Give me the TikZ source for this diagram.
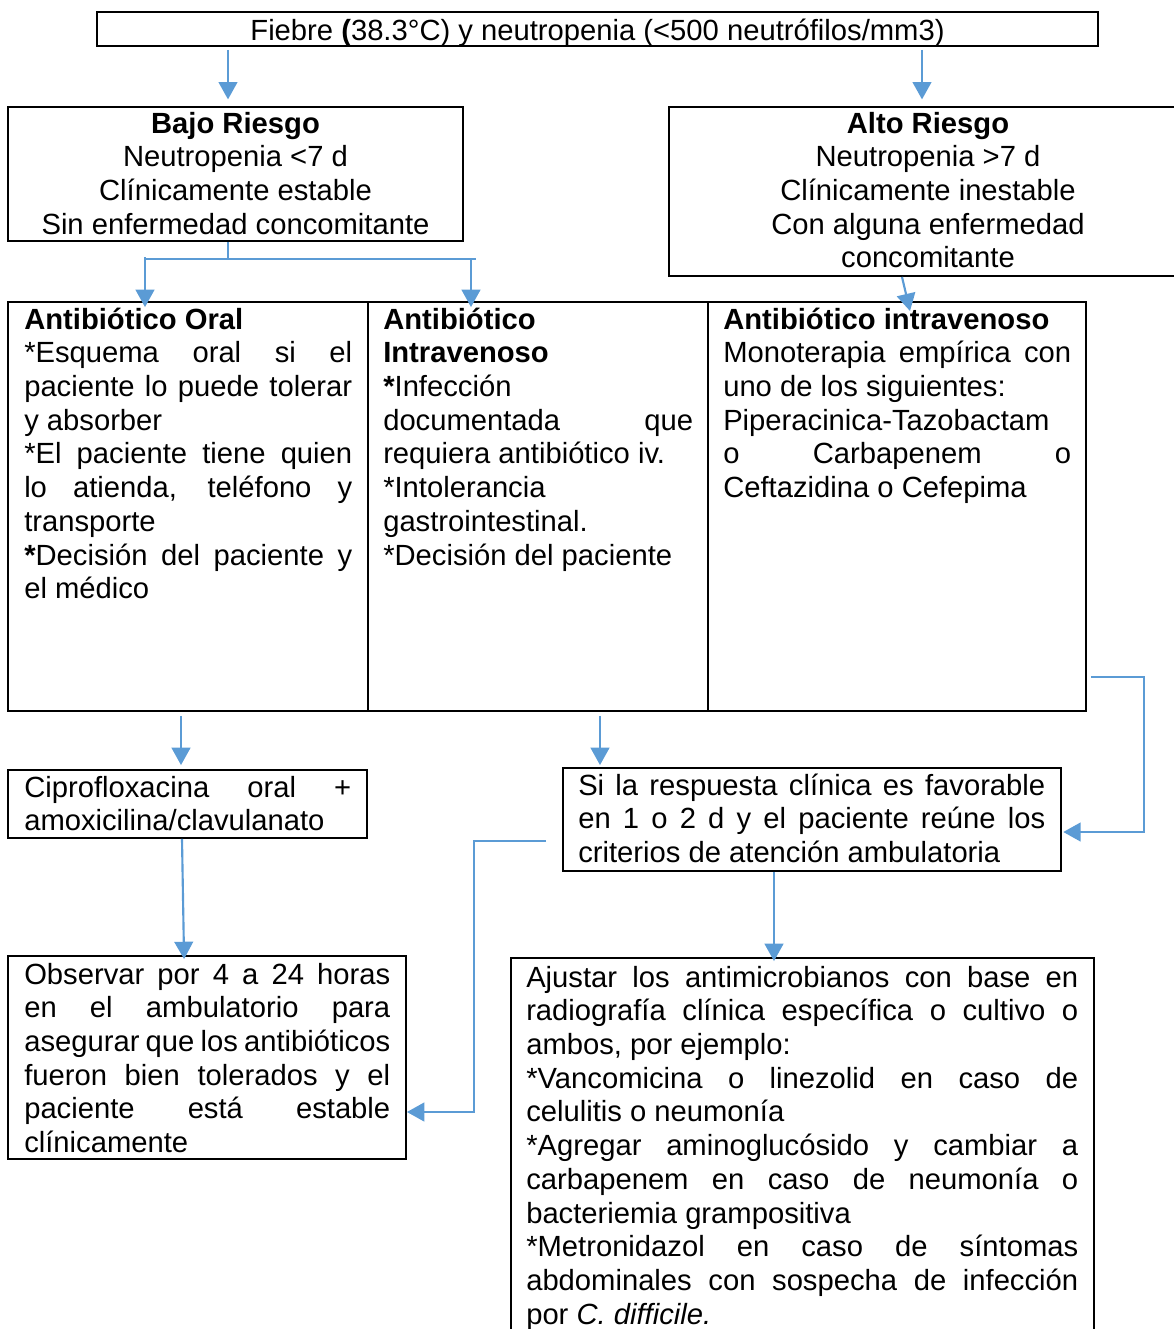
\documentclass[tikz,border=0pt]{standalone}
\usepackage{fontspec}
\setmainfont{Liberation Sans}
\usetikzlibrary{fit,arrows.meta}
\definecolor{arrblue}{HTML}{5B9BD5}
\newcommand\jl[1]{\makebox[\hsize][s]{#1}}
\tikzset{
  box/.style={draw=black, line width=1.4pt, inner sep=0pt, rectangle},
  conn/.style={draw=arrblue, line width=1.6pt},
  arr/.style={conn, -{Triangle[width=14pt,length=13pt]}},
  txt/.style={inner sep=0pt, font=\fontsize{21.9}{25.3}\selectfont}
}
\begin{document}
\begin{tikzpicture}[x=0.75pt,y=-0.75pt]
\useasboundingbox (0,0) rectangle (1174,1329);
% boxes
\node[box, fit={(97,12) (1098,46)}] (top) {};
\node[box, fit={(8,107) (463,241)}] (bajo) {};
\node[box, fit={(669,107) (1187,276)}] (alto) {};
\node[box, fit={(8,302) (368,711)}] (col1) {};
\node[box, fit={(368,302) (708,711)}] (col2) {};
\node[box, fit={(708,302) (1086,711)}] (col3) {};
\node[box, fit={(8,770) (367,838)}] (cipro) {};
\node[box, fit={(563,768) (1061,871)}] (si) {};
\node[box, fit={(8,956) (406,1159)}] (obs) {};
\node[box, fit={(511,958) (1094,1345)}] (ajus) {};
% texts
\node[txt, anchor=base] (t-top) at (597.5,40) {Fiebre \textbf{(}38.3°C) y neutropenia (<500 neutrófilos/mm3)};
\node[txt, anchor=base] (t-bajo) at (235.5,133) {\parbox[t]{440pt}{\centering\textbf{Bajo Riesgo}\\Neutropenia <7 d\\Clínicamente estable\\Sin enfermedad concomitante}};
\node[txt, anchor=base] (t-alto) at (928,133) {\parbox[t]{380pt}{\centering\textbf{Alto Riesgo}\\Neutropenia >7 d\\Clínicamente inestable\\Con alguna enfermedad\\concomitante}};
\node[txt, anchor=base west] (t-col1) at (24,329) {\parbox[t]{246pt}{\textbf{Antibiótico Oral}\\{}%
\jl{*Esquema oral si el}\\{}%
\jl{paciente lo puede tolerar}\\{}%
y absorber\\{}%
\jl{*El paciente tiene quien}\\{}%
\jl{lo atienda, teléfono y}\\{}%
transporte\\{}%
\jl{\textbf{*}Decisión del paciente y}\\{}%
el médico}};
\node[txt, anchor=base west] (t-col2) at (383,329) {\parbox[t]{232.5pt}{\textbf{Antibiótico}\\{}%
\textbf{Intravenoso}\\{}%
\textbf{*}Infección\\{}%
\jl{documentada que}\\{}%
requiera antibiótico iv.\\{}%
*Intolerancia\\{}%
gastrointestinal.\\{}%
*Decisión del paciente}};
\node[txt, anchor=base west] (t-col3) at (723,329) {\parbox[t]{261pt}{\textbf{Antibiótico intravenoso}\\{}%
\jl{Monoterapia empírica con}\\{}%
uno de los siguientes:\\{}%
Piperacinica-Tazobactam\\{}%
\jl{o Carbapenem o}\\{}%
Ceftazidina o Cefepima}};
\node[txt, anchor=base west] (t-cipro) at (24,797) {\parbox[t]{245.25pt}{\jl{Ciprofloxacina oral +}\\{}%
amoxicilina/clavulanato}};
\node[txt, anchor=base west] (t-si) at (578,795) {\parbox[t]{350.25pt}{\jl{Si la respuesta clínica es favorable}\\{}%
\jl{en 1 o 2 d y el paciente reúne los}\\{}%
criterios de atención ambulatoria}};
\node[txt, anchor=base west] (t-obs) at (24,984) {\parbox[t]{274.5pt}{\jl{Observar por 4 a 24 horas}\\{}%
\jl{en el ambulatorio para}\\{}%
\jl{asegurar que los antibióticos}\\{}%
\jl{fueron bien tolerados y el}\\{}%
\jl{paciente está estable}\\{}%
clínicamente}};
\node[txt, anchor=base west] (t-ajus) at (526,987) {\parbox[t]{414pt}{\jl{Ajustar los antimicrobianos con base en}\\{}%
\jl{radiografía clínica específica o cultivo o}\\{}%
ambos, por ejemplo:\\{}%
\jl{*Vancomicina o linezolid en caso de}\\{}%
celulitis o neumonía\\{}%
\jl{*Agregar aminoglucósido y cambiar a}\\{}%
\jl{carbapenem en caso de neumonía o}\\{}%
bacteriemia grampositiva\\{}%
\jl{*Metronidazol en caso de síntomas}\\{}%
\jl{abdominales con sospecha de infección}\\{}%
por \textit{C. difficile.}}};
% connector reference points
\coordinate (xa) at (228,0);
\coordinate (xb) at (922,0);
\coordinate (split) at (228,259);
\coordinate (sl) at (145,259);
\coordinate (sr) at (471,259);
\coordinate (srx) at (476,259);
\coordinate (a1) at (902,0);
\coordinate (a2) at (910,311);
\coordinate (xc) at (181,0);
\coordinate (xd) at (600,0);
\coordinate (r1) at (1144,677);
\coordinate (r2) at (1144,832);
\coordinate (l1) at (474,841);
\coordinate (l2) at (474,1112);
\coordinate (d1) at (182,0);
\coordinate (d2) at (184,0);
\coordinate (xe) at (774,0);
% connectors
\draw[arr, shorten <=2.2pt, shorten >=5pt] (top.south -| xa) -- (bajo.north -| xa);
\draw[arr, shorten <=2.2pt, shorten >=5pt] (top.south -| xb) -- (alto.north -| xb);
\draw[conn] (bajo.south -| split) -- (split);
\draw[conn] (sl) -- (srx);
\draw[arr, shorten <=-1.5pt, shorten >=-4.5pt] (sl) -- (col1.north -| sl);
\draw[arr, shorten >=-4.5pt] (sr) -- (col2.north -| sr);
\draw[arr] (alto.south -| a1) -- (a2);
\draw[arr, shorten <=3pt, shorten >=3pt] (col1.south -| xc) -- (cipro.north -| xc);
\draw[arr, shorten <=3pt, shorten >=1.5pt] (col2.south -| xd) -- (si.north -| xd);
\draw[arr, shorten <=3pt, shorten >=1pt] (col3.east |- r1) -- (r1) -- (r2) -- (si.east |- r2);
\draw[arr, shorten <=12pt] (si.west |- l1) -- (l1) -- (l2) -- (obs.east |- l2);
\draw[arr, shorten >=-3pt] (cipro.south -| d1) -- (obs.north -| d2);
\draw[arr, shorten >=-3pt] (si.south -| xe) -- (ajus.north -| xe);
\end{tikzpicture}
\end{document}
